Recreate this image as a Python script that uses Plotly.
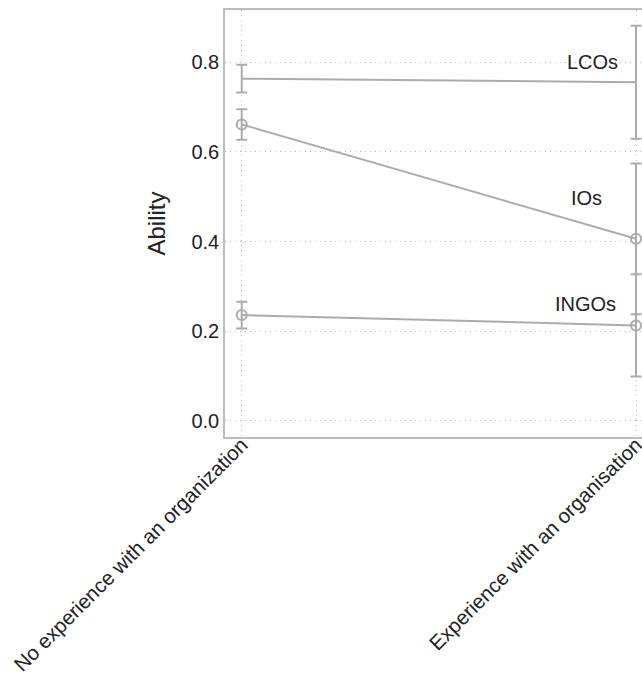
import plotly.graph_objects as go

categories = ["No experience with an organization", "Experience with an organisation"]
series_names = ["LCOs", "IOs", "INGOs"]
lco_mean = [0.763, 0.755]
lco_err = [0.031, 0.126]
io_mean = [0.661, 0.406]
io_err = [0.034, 0.168]
ingo_mean = [0.236, 0.213]
ingo_err = [0.030, 0.114]
y_ticks = [0.0, 0.2, 0.4, 0.6, 0.8]

LINE = "#acacac"
FONT = "Liberation Sans, Arial, Helvetica, sans-serif"

fig = go.Figure()

def add_series(name, means, errs, show_marker):
    fig.add_trace(go.Scatter(
        x=list(range(len(categories))), y=means, name=name,
        mode="lines+markers" if show_marker else "lines",
        line=dict(color=LINE, width=2),
        marker=dict(symbol="circle-open", size=10, color=LINE, line=dict(width=2, color=LINE)),
        error_y=dict(type="data", array=errs, visible=True, color=LINE, thickness=2, width=5.5),
        showlegend=False, cliponaxis=False,
    ))

add_series(series_names[0], lco_mean, lco_err, False)
add_series(series_names[1], io_mean, io_err, True)
add_series(series_names[2], ingo_mean, ingo_err, True)

label_pos = [(0.89, 0.80), (0.875, 0.497), (0.873, 0.26)]
for name, (lx, ly) in zip(series_names, label_pos):
    fig.add_annotation(x=lx, y=ly, text=name, showarrow=False,
                       xanchor="center", yanchor="middle",
                       font=dict(size=20, color="#222222", family=FONT))

fig.update_layout(
    width=642, height=674, autosize=False,
    margin=dict(l=225, r=0, t=10, b=237, pad=0, autoexpand=False),
    paper_bgcolor="white", plot_bgcolor="white",
    font=dict(family=FONT, size=20, color="#222222"),
)
fig.update_xaxes(
    tickmode="array", tickvals=list(range(len(categories))), ticktext=categories,
    range=[-0.0424, 1.0152], tickangle=-45, automargin=False,
    ticklabeloverflow="allow",
    showline=True, linecolor="#bdbdbd", linewidth=1.5, mirror=True,
    showgrid=True, gridcolor="#bbbbbb", griddash="1px,4px", gridwidth=1,
    zeroline=False, ticks="", ticklabelstandoff=-14,
    tickfont=dict(size=20.5, color="#222222"),
)
fig.update_yaxes(
    tickmode="array", tickvals=y_ticks, ticktext=[f"{v:.1f}" for v in y_ticks],
    range=[-0.0357, 0.916], automargin=False,
    showline=True, linecolor="#bdbdbd", linewidth=1.5,
    showgrid=True, gridcolor="#bbbbbb", griddash="1px,4px", gridwidth=1,
    zeroline=False, ticks="", ticklabelstandoff=0,
    tickfont=dict(size=20, color="#222222"),
    title=dict(text="Ability", font=dict(size=24, color="#222222"), standoff=19),
)

fig.write_html(
    "out.html",
    config={"displayModeBar": False},
    post_script="document.body.style.margin='0';document.body.style.overflow='hidden';",
)
